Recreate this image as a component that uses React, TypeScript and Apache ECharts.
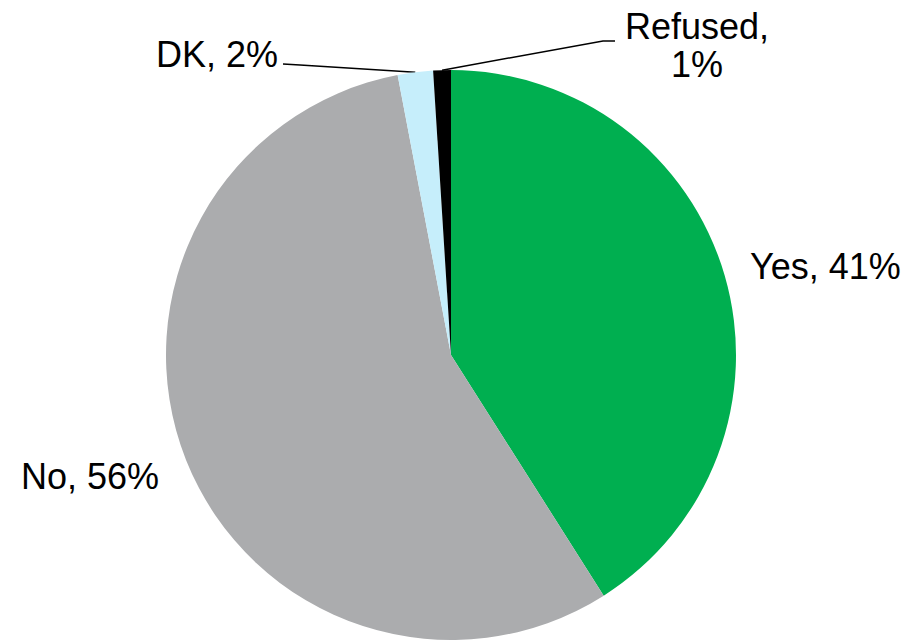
import React, { useEffect, useRef } from "react";
import * as echarts from "echarts";

const categories = ["Yes", "No", "DK", "Refused"];
const values = [41, 56, 2, 1];
const colors = ["#00AF50", "#ABACAE", "#C6EEFB", "#000000"];

export default function App() {
  const ref = useRef<HTMLDivElement>(null);
  useEffect(() => {
    if (!ref.current) return;
    const chart = echarts.init(ref.current, null, { renderer: "svg" });
    const data = categories.map((name, i) => ({
      name,
      value: values[i],
      itemStyle: { color: colors[i] },
      labelLine: { show: i >= 2 },
    }));
    chart.setOption({
      animation: false,
      backgroundColor: "#ffffff",
      series: [
        {
          type: "pie",
          center: [451, 355],
          radius: 285,
          startAngle: 90,
          clockwise: true,
          avoidLabelOverlap: false,
          data,
          itemStyle: { borderWidth: 0 },
          label: {
            show: true,
            position: "outside",
            fontFamily: "'Liberation Sans', Arial, sans-serif",
            fontSize: 36,
            lineHeight: 38,
            color: "#000000",
            formatter: (p: any) =>
              p.dataIndex === 3 ? `${p.name},\n${p.value}%` : `${p.name}, ${p.value}%`,
          },
          labelLine: {
            show: true,
            length: 10,
            length2: 10,
            lineStyle: { color: "#000000", width: 1.5 },
          },
          labelLayout: (p: any) => {
            const i = p.dataIndex;
            const pts = p.labelLinePoints;
            const e = pts && pts[0] ? [pts[0][0], pts[0][1]] : null;
            if (i === 0) return { x: 750, y: 266, align: "left", verticalAlign: "middle" };
            if (i === 1) return { x: 159, y: 476, align: "right", verticalAlign: "middle" };
            if (i === 2) {
              const r: any = { x: 278, y: 54, align: "right", verticalAlign: "middle" };
              if (e) r.labelLinePoints = [e, [300, 65], [283, 64]];
              return r;
            }
            const r: any = { x: 697, y: 45, align: "center", verticalAlign: "middle" };
            if (e) r.labelLinePoints = [e, [603, 41], [615, 41]];
            return r;
          },
        },
      ],
    });
    return () => chart.dispose();
  }, []);
  return (
    <div
      ref={ref}
      style={{ position: "fixed", left: 0, top: 0, width: 912, height: 640 }}
    />
  );
}
